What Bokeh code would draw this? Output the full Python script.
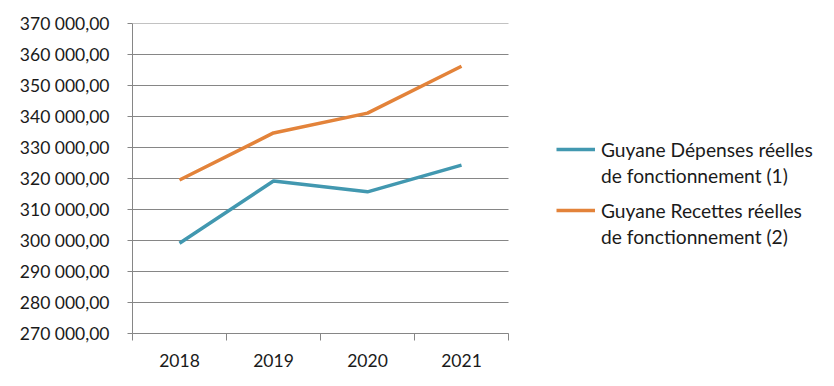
from bokeh.plotting import figure
from bokeh.models import Range1d, FixedTicker, Legend, LegendItem
from bokeh.embed import file_html
from bokeh.resources import INLINE

years = ["2018", "2019", "2020", "2021"]
depenses = [299100, 319200, 315700, 324300]
recettes = [319500, 334700, 341100, 356200]
y_ticks = [270000, 280000, 290000, 300000, 310000, 320000, 330000, 340000, 350000, 360000, 370000]
label_dep = ["Guyane Dépenses réelles", "de fonctionnement (1)"]
label_rec = ["Guyane Recettes réelles", "de fonctionnement (2)"]

FONT = "Lato"
GRID = "#868686"
TXT = "#1a1a1a"

W, H = 826, 378
LEFT, RIGHT, TOP, BOTTOM = 132, 0, 23, 45
AXIS_W = 376  # pixel width of the category axis
n = len(years)
x_end = n * (W - LEFT - RIGHT) / AXIS_W

xs = [i + 0.5 for i in range(n)]

p = figure(width=W, height=H, output_backend="svg", toolbar_location=None,
           x_range=Range1d(0, x_end), y_range=Range1d(y_ticks[0], y_ticks[-1]),
           min_border_left=LEFT, min_border_right=RIGHT, min_border_top=TOP, min_border_bottom=BOTTOM)
p.outline_line_color = None
p.background_fill_color = "white"
p.border_fill_color = "white"

# horizontal gridlines limited to the category span
p.segment(x0=[0] * len(y_ticks), x1=[n] * len(y_ticks), y0=y_ticks, y1=y_ticks,
          line_color=GRID, line_width=1)

r_dep = p.line(xs, depenses, line_color="#4298B0", line_width=3.5)
r_rec = p.line(xs, recettes, line_color="#E3833A", line_width=3.5)

# y axis
p.yaxis.ticker = FixedTicker(ticks=y_ticks, minor_ticks=[])
p.yaxis.major_label_overrides = {t: f"{t:,.2f}".replace(",", " ").replace(".", ",") for t in y_ticks}
p.yaxis.axis_line_color = GRID
p.yaxis.major_tick_line_color = GRID
p.yaxis.major_tick_out = 5
p.yaxis.major_tick_in = 0
p.yaxis.minor_tick_line_color = None
p.yaxis.major_label_standoff = 18
p.yaxis.major_label_text_font = FONT
p.yaxis.major_label_text_font_size = "17.5px"
p.yaxis.major_label_text_color = TXT

# x axis
p.xaxis.bounds = (0, n)
p.xaxis.ticker = FixedTicker(ticks=xs, minor_ticks=list(range(n + 1)))
p.xaxis.major_label_overrides = {x: y for x, y in zip(xs, years)}
p.xaxis.axis_line_color = GRID
p.xaxis.major_tick_line_color = None
p.xaxis.major_tick_out = 0
p.xaxis.major_tick_in = 0
p.xaxis.minor_tick_line_color = GRID
p.xaxis.minor_tick_out = 7
p.xaxis.minor_tick_in = 0
p.xaxis.major_label_standoff = 13
p.xaxis.major_label_text_font = FONT
p.xaxis.major_label_text_font_size = "17.5px"
p.xaxis.major_label_text_color = TXT

p.xgrid.visible = False
p.ygrid.visible = False


def make_legend(renderer, lines, loc):
    items = [LegendItem(label=lines[0], renderers=[renderer])]
    items += [LegendItem(label=t, renderers=[]) for t in lines[1:]]
    return Legend(items=items, location=loc, padding=0, margin=0, spacing=0,
                  border_line_color=None, background_fill_alpha=0,
                  glyph_width=39, glyph_height=26, label_standoff=6, label_height=26,
                  label_text_font=FONT, label_text_font_size="19.2px",
                  label_text_color=TXT)


p.add_layout(make_legend(r_dep, label_dep, (424, 145)), "center")
p.add_layout(make_legend(r_rec, label_rec, (424, 84)), "center")

open("out.html", "w").write(file_html(p, INLINE))
